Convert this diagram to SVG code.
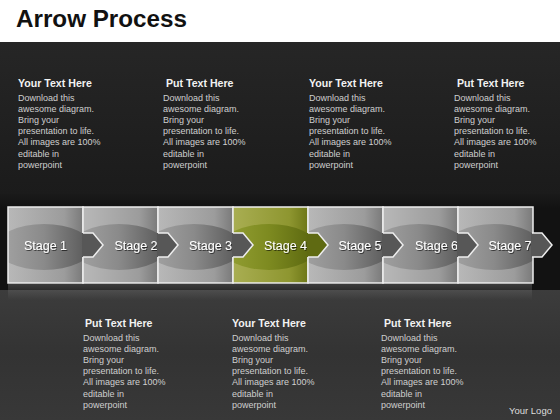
<svg xmlns="http://www.w3.org/2000/svg" xmlns:xlink="http://www.w3.org/1999/xlink" width="560" height="420" viewBox="0 0 560 420">
<defs>
<style>
.h{font-family:"Liberation Sans",Arial,sans-serif;font-weight:bold;font-size:10.6px;fill:#f2f2f2}
.b{font-family:"Liberation Sans",Arial,sans-serif;font-size:9px;fill:#cfcfcf}
.st{font-family:"Liberation Sans",Arial,sans-serif;font-size:12.5px;fill:#ffffff;text-anchor:middle;filter:url(#tshadow)}
.box{stroke:#eeeeee;stroke-width:1.5}
.chevLine{fill:none;stroke:#eeeeee;stroke-width:1.5;stroke-linejoin:miter}
</style>
<filter id="tshadow" x="-20%" y="-40%" width="140%" height="180%">
<feDropShadow dx="0.8" dy="1" stdDeviation="0.6" flood-color="#000000" flood-opacity="0.6"/>
</filter>
<linearGradient id="bg" x1="0" y1="0" x2="0" y2="1">
<stop offset="0" stop-color="#262626"/>
<stop offset="1" stop-color="#1b1b1b"/>
</linearGradient>
<linearGradient id="bg2" x1="0" y1="0" x2="0" y2="1">
<stop offset="0" stop-color="#3c3c3c"/>
<stop offset="0.5" stop-color="#333333"/>
<stop offset="1" stop-color="#383838"/>
</linearGradient>
<linearGradient id="band" x1="0" y1="0" x2="0" y2="1">
<stop offset="0" stop-color="#1a1a1a"/>
<stop offset="0.15" stop-color="#121212"/>
<stop offset="1" stop-color="#121212"/>
</linearGradient>
<linearGradient id="gFill" x1="0" y1="0" x2="1" y2="0">
<stop offset="0" stop-color="#b8b8b8"/>
<stop offset="0.75" stop-color="#9c9c9c"/>
<stop offset="1" stop-color="#7a7a7a"/>
</linearGradient>
<linearGradient id="gEll" x1="0" y1="0" x2="1" y2="0">
<stop offset="0" stop-color="#a6a6a6"/>
<stop offset="0.5" stop-color="#8a8a8a"/>
<stop offset="1" stop-color="#555555"/>
</linearGradient>
<linearGradient id="oFill" x1="0" y1="0" x2="1" y2="0">
<stop offset="0" stop-color="#a9ae52"/>
<stop offset="0.75" stop-color="#8e9630"/>
<stop offset="1" stop-color="#6e7818"/>
</linearGradient>
<linearGradient id="oEll" x1="0" y1="0" x2="1" y2="0">
<stop offset="0" stop-color="#96a236"/>
<stop offset="0.5" stop-color="#7d8a20"/>
<stop offset="1" stop-color="#58640e"/>
</linearGradient>
<linearGradient id="refl" x1="0" y1="0" x2="0" y2="1">
<stop offset="0" stop-color="#8a8a8a" stop-opacity="0.35"/>
<stop offset="1" stop-color="#8a8a8a" stop-opacity="0"/>
</linearGradient>
<clipPath id="boxClip"><rect x="0" y="0" width="75" height="76"/></clipPath>
<g id="grayBox">
<rect x="0" y="0" width="75" height="76" fill="url(#gFill)"/>
<ellipse cx="36" cy="40" rx="48" ry="23" fill="url(#gEll)" clip-path="url(#boxClip)"/>
<rect x="0" y="0" width="75" height="76" fill="none" class="box"/>
</g>
<g id="oliveBox">
<rect x="0" y="0" width="75" height="76" fill="url(#oFill)"/>
<ellipse cx="36" cy="40" rx="48" ry="23" fill="url(#oEll)" clip-path="url(#boxClip)"/>
<rect x="0" y="0" width="75" height="76" fill="none" class="box"/>
</g>
<g id="chevGray">
<path d="M-1,0 H10 L20,12 L10,24 H-1 Z" fill="#575757"/>
<path d="M0,0 H10 L20,12 L10,24 H0" class="chevLine"/>
</g>
<g id="chevOlive">
<path d="M-1,0 H10 L20,12 L10,24 H-1 Z" fill="#5f6a12"/>
<path d="M0,0 H10 L20,12 L10,24 H0" class="chevLine"/>
</g>
</defs>

<!-- header -->
<rect x="0" y="0" width="560" height="42" fill="#ffffff"/>
<text x="16" y="27" font-family="'Liberation Sans',Arial,sans-serif" font-weight="bold" font-size="23" fill="#111111" textLength="171" lengthAdjust="spacingAndGlyphs">Arrow Process</text>

<!-- background -->
<rect x="0" y="42" width="560" height="152" fill="url(#bg)"/>
<rect x="0" y="194" width="560" height="96" fill="url(#band)"/>
<rect x="0" y="290" width="560" height="130" fill="url(#bg2)"/>

<!-- reflection -->
<rect x="8" y="284" width="524" height="16" fill="url(#refl)"/>

<!-- stages -->
<g id="stage1"><use xlink:href="#grayBox" x="8" y="207"/><text class="st" x="45.5" y="249.5">Stage 1</text></g>
<g id="stage2"><use xlink:href="#grayBox" x="83" y="207"/><text class="st" x="136" y="249.5">Stage 2</text></g>
<g id="stage3"><use xlink:href="#grayBox" x="158" y="207"/><text class="st" x="210.5" y="249.5">Stage 3</text></g>
<g id="stage4"><use xlink:href="#oliveBox" x="233" y="207"/><text class="st" x="285.5" y="249.5">Stage 4</text></g>
<g id="stage5"><use xlink:href="#grayBox" x="308" y="207"/><text class="st" x="360" y="249.5">Stage 5</text></g>
<g id="stage6"><use xlink:href="#grayBox" x="383" y="207"/><text class="st" x="436.5" y="249.5">Stage 6</text></g>
<g id="stage7"><use xlink:href="#grayBox" x="458" y="207"/><text class="st" x="510" y="249.5">Stage 7</text></g>

<!-- connectors (chevrons) -->
<g id="connectors">
<use xlink:href="#chevGray" x="83" y="233"/>
<use xlink:href="#chevGray" x="158" y="233"/>
<use xlink:href="#chevGray" x="233" y="233"/>
<use xlink:href="#chevOlive" x="308" y="233"/>
<use xlink:href="#chevGray" x="383" y="233"/>
<use xlink:href="#chevGray" x="458" y="233"/>
<use xlink:href="#chevGray" x="532" y="233"/>
</g>

<!-- top text blocks -->
<g id="top1">
<text class="h" x="18" y="87.3">Your Text Here</text>
<text class="b"><tspan x="18" y="100.7">Download this</tspan><tspan x="18" y="111.9">awesome diagram.</tspan><tspan x="18" y="123.1">Bring your</tspan><tspan x="18" y="134.2">presentation to life.</tspan><tspan x="18" y="145.4">All images are 100%</tspan><tspan x="18" y="156.6">editable in</tspan><tspan x="18" y="167.7">powerpoint</tspan></text>
</g>
<g id="top2">
<text class="h" x="166" y="87.3">Put Text Here</text>
<text class="b"><tspan x="163" y="100.7">Download this</tspan><tspan x="163" y="111.9">awesome diagram.</tspan><tspan x="163" y="123.1">Bring your</tspan><tspan x="163" y="134.2">presentation to life.</tspan><tspan x="163" y="145.4">All images are 100%</tspan><tspan x="163" y="156.6">editable in</tspan><tspan x="163" y="167.7">powerpoint</tspan></text>
</g>
<g id="top3">
<text class="h" x="309" y="87.3">Your Text Here</text>
<text class="b"><tspan x="309" y="100.7">Download this</tspan><tspan x="309" y="111.9">awesome diagram.</tspan><tspan x="309" y="123.1">Bring your</tspan><tspan x="309" y="134.2">presentation to life.</tspan><tspan x="309" y="145.4">All images are 100%</tspan><tspan x="309" y="156.6">editable in</tspan><tspan x="309" y="167.7">powerpoint</tspan></text>
</g>
<g id="top4">
<text class="h" x="457" y="87.3">Put Text Here</text>
<text class="b"><tspan x="454" y="100.7">Download this</tspan><tspan x="454" y="111.9">awesome diagram.</tspan><tspan x="454" y="123.1">Bring your</tspan><tspan x="454" y="134.2">presentation to life.</tspan><tspan x="454" y="145.4">All images are 100%</tspan><tspan x="454" y="156.6">editable in</tspan><tspan x="454" y="167.7">powerpoint</tspan></text>
</g>

<!-- bottom text blocks -->
<g id="bot1">
<text class="h" x="85" y="327.3">Put Text Here</text>
<text class="b"><tspan x="83" y="340.7">Download this</tspan><tspan x="83" y="351.9">awesome diagram.</tspan><tspan x="83" y="363.1">Bring your</tspan><tspan x="83" y="374.2">presentation to life.</tspan><tspan x="83" y="385.4">All images are 100%</tspan><tspan x="83" y="396.6">editable in</tspan><tspan x="83" y="407.7">powerpoint</tspan></text>
</g>
<g id="bot2">
<text class="h" x="232" y="327.3">Your Text Here</text>
<text class="b"><tspan x="232" y="340.7">Download this</tspan><tspan x="232" y="351.9">awesome diagram.</tspan><tspan x="232" y="363.1">Bring your</tspan><tspan x="232" y="374.2">presentation to life.</tspan><tspan x="232" y="385.4">All images are 100%</tspan><tspan x="232" y="396.6">editable in</tspan><tspan x="232" y="407.7">powerpoint</tspan></text>
</g>
<g id="bot3">
<text class="h" x="384" y="327.3">Put Text Here</text>
<text class="b"><tspan x="381" y="340.7">Download this</tspan><tspan x="381" y="351.9">awesome diagram.</tspan><tspan x="381" y="363.1">Bring your</tspan><tspan x="381" y="374.2">presentation to life.</tspan><tspan x="381" y="385.4">All images are 100%</tspan><tspan x="381" y="396.6">editable in</tspan><tspan x="381" y="407.7">powerpoint</tspan></text>
</g>

<g id="logo">
<text x="509" y="414" font-family="'Liberation Sans',Arial,sans-serif" font-size="9.5" fill="#dddddd">Your Logo</text>
</g>
</svg>
